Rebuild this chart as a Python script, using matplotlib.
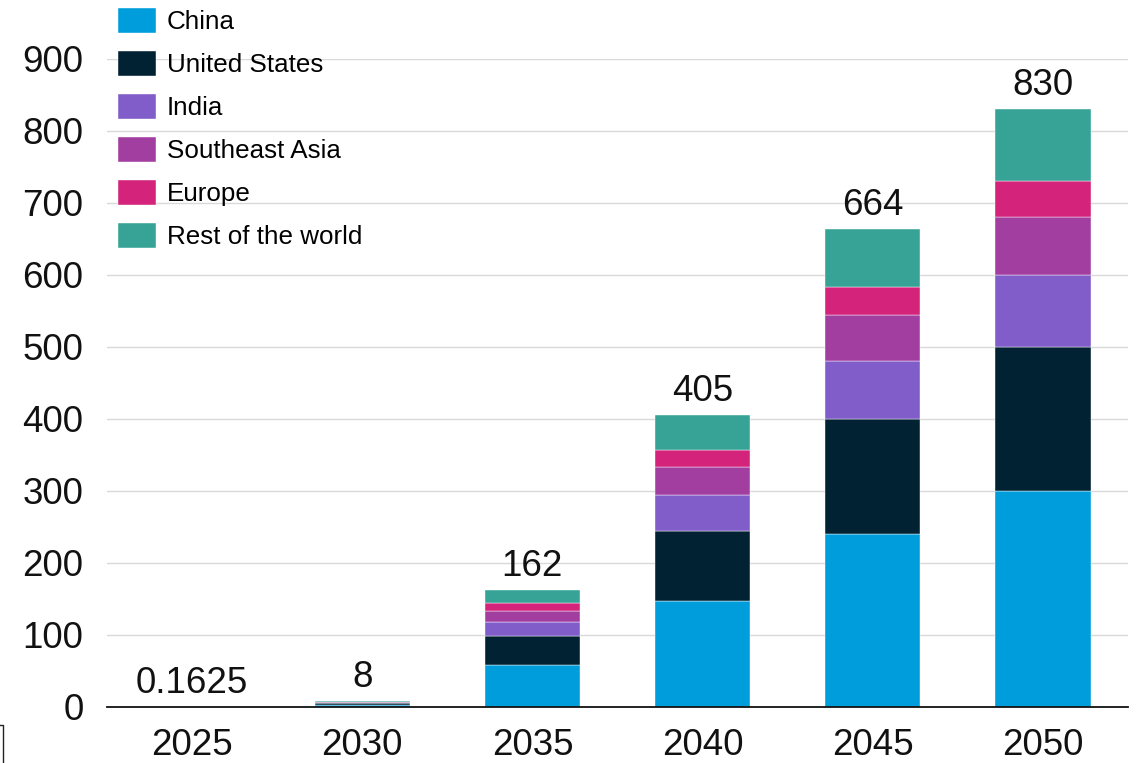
import matplotlib.pyplot as plt
import matplotlib.lines as mlines
import numpy as np

plt.rcParams['font.family'] = ['Liberation Sans', 'DejaVu Sans']

#==============================================================================#
years = ['2025', '2030', '2035', '2040', '2045', '2050']
totals = ['0.1625', '8', '162', '405', '664', '830']

regions = ['China', 'United States', 'India', 'Southeast Asia', 'Europe',
           'Rest of the world']
china = [0.06, 3, 59, 147, 240, 300]
united_states = [0.04, 2, 39, 98, 160, 200]
india = [0.02, 1, 20, 49, 80, 100]
southeast_asia = [0.015, 0.8, 16, 39, 64, 80]
europe = [0.01, 0.5, 10, 24, 40, 50]
rest_of_world = [0.0175, 0.7, 18, 48, 80, 100]

colors = ['#009ddc', '#012233', '#815dc9', '#a33ea1', '#d3237a', '#36a396']
#==============================================================================#

W, H = 1140, 763
fig = plt.figure(figsize=(W / 100, H / 100), dpi=100)
ax = fig.add_axes([107 / W, (H - 707) / H, (1128 - 107) / W, (707 - 59) / H])

series = [china, united_states, india, southeast_asia, europe, rest_of_world]
x = np.arange(len(years))
bottom = np.zeros(len(years))
for name, vals, col in zip(regions, series, colors):
    vals = np.array(vals, dtype=float)
    ax.bar(x, vals, 0.56, bottom=bottom, color=col, label=name,
           edgecolor='white', linewidth=0.3, zorder=3)
    bottom += vals

for xi, top, lab in zip(x, bottom, totals):
    ax.annotate(lab, (xi, top), xytext=(0, 4.5), textcoords='offset points',
                ha='center', va='bottom', fontsize=26.5, color='#111111')

ax.set_xlim(-0.5, 5.5)
ax.set_ylim(0, 900)
ax.set_yticks(np.arange(0, 901, 100))
ax.set_xticks(x)
ax.set_xticklabels(years)
ax.tick_params(axis='both', length=0, labelsize=26.5, colors='#111111')
ax.tick_params(axis='x', pad=15)
ax.tick_params(axis='y', pad=17)
ax.grid(axis='y', color='#d9d9d9', linewidth=1, zorder=0)
for s in ['left', 'right', 'top']:
    ax.spines[s].set_visible(False)
ax.spines['bottom'].set_color('#111111')
ax.spines['bottom'].set_linewidth(1.3)
ax.spines['bottom'].set_zorder(4)

ax.legend(loc='upper left', bbox_to_anchor=(118 / W, 1 - 8 / H),
          bbox_transform=fig.transFigure, frameon=False, fontsize=18.7,
          borderpad=0, borderaxespad=0, handlelength=1.46, handleheight=1.08,
          handletextpad=0.42, labelspacing=0.65)

# small bracket at the lower left edge
fig.add_artist(mlines.Line2D([0, 3 / W, 3 / W], [1 - 725 / H, 1 - 725 / H, 0],
                             color='#222222', linewidth=1,
                             transform=fig.transFigure))

plt.savefig('out.png', dpi=100)
